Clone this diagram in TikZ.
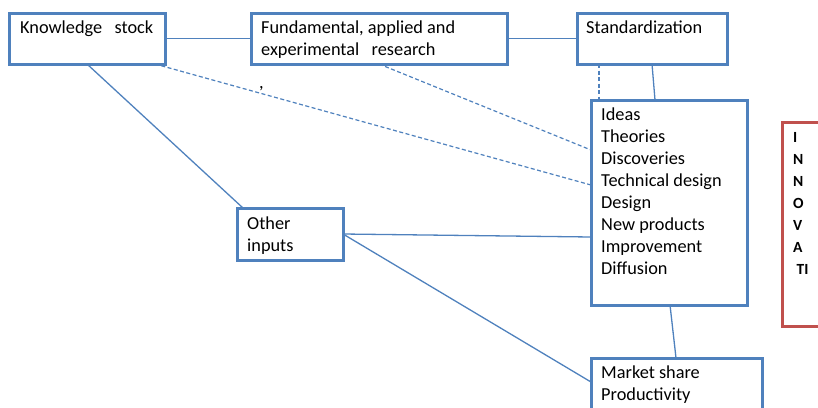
\documentclass[tikz,border=0pt]{standalone}
\usepackage{fontspec}
\setmainfont{Carlito}
\usetikzlibrary{calc}
\definecolor{bl}{HTML}{4F81BD}
\definecolor{rd}{HTML}{C0504D}
\newcommand{\topstrut}{\rule{0pt}{15pt}}
\newcommand{\btopstrut}{\rule{0pt}{12pt}}
\begin{document}
\begin{tikzpicture}[x=1pt,y=-1pt,
  box/.style={draw=bl,line width=3pt,anchor=north west,inner sep=0pt,outer sep=0pt},
  rbox/.style={draw=rd,line width=3pt,anchor=north west,inner sep=0pt,outer sep=0pt},
  conn/.style={draw=bl,line width=1.3pt},
  dconn/.style={draw=bl,line width=1.2pt,dash pattern=on 4pt off 2.5pt},
  txt/.style={anchor=north west,inner sep=0pt,align=left,font=\fontsize{18.3}{22}\selectfont},
  btxt/.style={anchor=north west,inner sep=0pt,align=left,font=\fontsize{15.5}{22}\selectfont\bfseries}]
\useasboundingbox (0,0) rectangle (818,407);
\begin{scope}
\clip (0,0) rectangle (818,407);
% boxes
\node[box,minimum width=156pt,minimum height=51pt] (ks) at (9,13) {};
\node[box,minimum width=256pt,minimum height=51pt] (fr) at (251,13) {};
\node[box,minimum width=150pt,minimum height=51pt] (st) at (577,13) {};
\node[box,minimum width=156pt,minimum height=205pt] (id) at (591,100) {};
\node[box,minimum width=106pt,minimum height=52pt] (oi) at (237,208) {};
\node[box,minimum width=171pt,minimum height=70pt] (ms) at (591,358) {};
\node[rbox,minimum width=80pt,minimum height=204pt] (rb) at (782,122) {};
% texts (top = baseline - 15)
\node[txt] (tks) at (20,18) {\topstrut Knowledge\ \ \ stock};
\node[txt] (tfr) at (261,18) {\topstrut Fundamental, applied and\\experimental\ \ \ research};
\node[txt] (tst) at (586,18) {\topstrut Standardization};
\node[txt] (tid) at (601,105) {\topstrut Ideas\\Theories\\Discoveries\\Technical design\\Design\\New products\\Improvement\\Diffusion};
\node[txt] (toi) at (247,214) {\topstrut Other\\inputs};
\node[txt] (tms) at (601,363) {\topstrut Market share\\Productivity};
\node[btxt] (trb) at (793,130) {\btopstrut I\\N\\N\\O\\V\\A\\\hspace{3.5pt}TI};
\node[txt] (comma) at (259,73) {\topstrut ,};
% connectors
\draw[conn] (ks.east) -- (fr.west);
\draw[conn] (fr.east) -- (st.west);
\draw[conn] (ks.south) -- ($(oi.north west)+(6,0)$);
\draw[dconn] ($(ks.south east)+(-10,0)$) -- ($(id.north west)+(0,85)$);
\draw[dconn] (fr.south) -- ($(id.north west)+(0,50)$);
\draw[dconn] ($(st.south west)+(22,0)$) -- ($(id.north west)+(8,0)$);
\draw[conn] (st.south) -- ($(id.north west)+(64,0)$);
\draw[conn] (oi.east) -- ($(id.north west)+(0,137)$);
\draw[conn] (oi.east) -- ($(ms.north west)+(0,24)$);
\draw[conn] ($(id.south west)+(79,0)$) -- ($(ms.north west)+(85,0)$);
\end{scope}
\end{tikzpicture}
\end{document}
